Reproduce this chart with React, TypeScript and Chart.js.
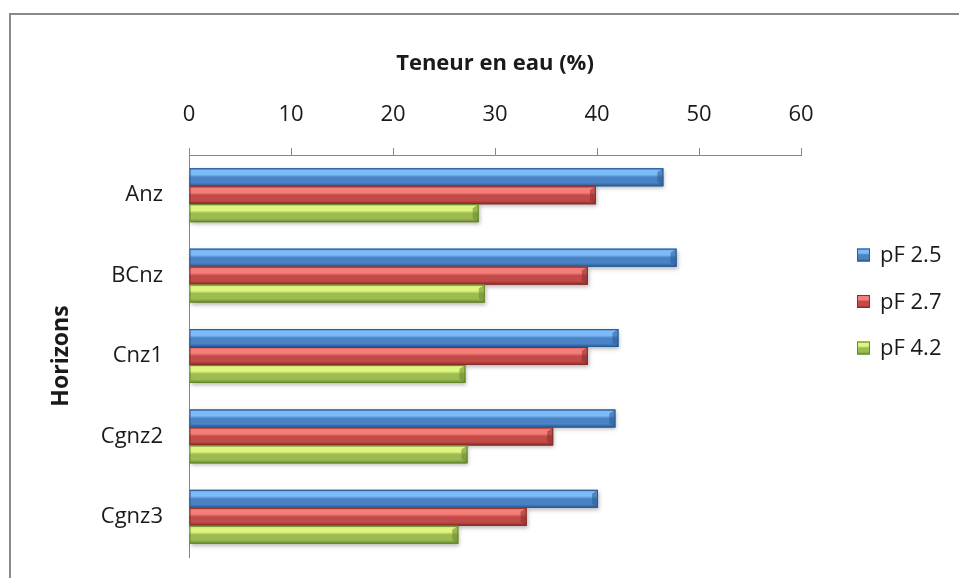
import React, { useEffect, useRef } from 'react';
import { Chart, registerables } from 'chart.js';

Chart.register(...registerables);

const categories = ['Anz', 'BCnz', 'Cnz1', 'Cgnz2', 'Cgnz3'];
const seriesNames = ['pF 2.5', 'pF 2.7', 'pF 4.2'];
const pF25 = [46.5, 47.8, 42.1, 41.8, 40.1];
const pF27 = [39.9, 39.1, 39.1, 35.7, 33.1];
const pF42 = [28.4, 29.0, 27.1, 27.3, 26.4];
const xTicks = [0, 10, 20, 30, 40, 50, 60];
const xTitle = 'Teneur en eau (%)';
const yTitle = 'Horizons';

const FONT = "'Open Sans', 'DejaVu Sans', sans-serif";
const TEXT = '#1a1a1a';
const AXIS = '#868686';

// [edge, highlight, mid, dark]
const shades = [
  ['#4e88cf', '#7dbaf8', '#4a82c6', '#2b5b93'],
  ['#c65350', '#f57e7b', '#c24a47', '#8a2d2b'],
  ['#a6c75a', '#def57f', '#9cbc50', '#67872f'],
];

function makeGrad(ctx: CanvasRenderingContext2D, top: number, bottom: number, s: string[]) {
  const g = ctx.createLinearGradient(0, top, 0, bottom);
  g.addColorStop(0, s[0]);
  g.addColorStop(0.12, s[1]);
  g.addColorStop(0.35, s[1]);
  g.addColorStop(0.5, s[2]);
  g.addColorStop(0.8, s[2]);
  g.addColorStop(1, s[3]);
  return g;
}

const framePlugin = {
  id: 'frame',
  beforeDraw(chart: any) {
    const { ctx, width, height } = chart;
    ctx.save();
    ctx.fillStyle = '#ffffff';
    ctx.fillRect(0, 0, width, height);
    ctx.fillStyle = '#8a8a8a';
    ctx.fillRect(9, 13, width - 9, 2);
    ctx.fillRect(9, 13, 2, height - 13);
    ctx.restore();
  },
};

const bevelPlugin = {
  id: 'bevel',
  afterDatasetsDraw(chart: any) {
    const { ctx } = chart;
    ctx.save();
    chart.data.datasets.forEach((_ds: any, di: number) => {
      const meta = chart.getDatasetMeta(di);
      const s = shades[di];
      meta.data.forEach((el: any) => {
        const { x, y, base, height } = el.getProps(['x', 'y', 'base', 'height'], true);
        const top = y - height / 2;
        const bottom = y + height / 2;
        const left = Math.min(x, base);
        const w = Math.abs(x - base);
        ctx.save();
        ctx.shadowColor = 'rgba(0,0,0,0.28)';
        ctx.shadowBlur = 4;
        ctx.shadowOffsetX = 1;
        ctx.shadowOffsetY = 2;
        ctx.fillStyle = makeGrad(ctx, top, bottom, s);
        ctx.fillRect(left, top, w, height);
        ctx.restore();
        // right-end bevel
        ctx.fillStyle = s[3];
        ctx.globalAlpha = 0.55;
        ctx.beginPath();
        ctx.moveTo(left + w, top);
        ctx.lineTo(left + w, bottom);
        ctx.lineTo(left + w - 6, bottom - 4);
        ctx.lineTo(left + w - 6, top + 4);
        ctx.closePath();
        ctx.fill();
        ctx.globalAlpha = 1;
        ctx.strokeStyle = s[3];
        ctx.lineWidth = 1;
        ctx.strokeRect(left + 0.5, top + 0.5, w - 1, height - 1);
      });
    });
    ctx.restore();
  },
};

const legendPlugin = {
  id: 'sideLegend',
  afterDraw(chart: any) {
    const { ctx } = chart;
    ctx.save();
    ctx.font = `22px ${FONT}`;
    ctx.textBaseline = 'middle';
    ctx.textAlign = 'left';
    chart.data.datasets.forEach((ds: any, i: number) => {
      const cy = 255 + i * 46.5;
      const bx = 857;
      const size = 13;
      ctx.fillStyle = makeGrad(ctx, cy - size / 2, cy + size / 2, shades[i]);
      ctx.fillRect(bx, cy - size / 2, size, size);
      ctx.strokeStyle = shades[i][3];
      ctx.lineWidth = 1;
      ctx.strokeRect(bx + 0.5, cy - size / 2 + 0.5, size - 1, size - 1);
      ctx.fillStyle = TEXT;
      ctx.fillText(ds.label, 880, cy + 1);
    });
    ctx.restore();
  },
};

export default function App() {
  const ref = useRef<HTMLCanvasElement | null>(null);

  useEffect(() => {
    if (!ref.current) return;
    const chart = new Chart(ref.current, {
      type: 'bar',
      data: {
        labels: categories,
        datasets: [
          { label: seriesNames[0], data: pF25, backgroundColor: shades[0][2] },
          { label: seriesNames[1], data: pF27, backgroundColor: shades[1][2] },
          { label: seriesNames[2], data: pF42, backgroundColor: shades[2][2] },
        ],
      },
      options: {
        indexAxis: 'y',
        responsive: false,
        animation: false,
        devicePixelRatio: 1,
        layout: { padding: { left: 0, top: 0, right: 158, bottom: 21 } },
        datasets: {
          bar: { categoryPercentage: 0.67, barPercentage: 1.0, borderWidth: 0 },
        },
        plugins: {
          legend: { display: false },
          tooltip: { enabled: false },
        },
        scales: {
          x: {
            position: 'top',
            min: 0,
            max: 60,
            afterBuildTicks: (s: any) => {
              s.ticks = xTicks.map((v) => ({ value: v }));
            },
            afterFit: (s: any) => {
              s.height = 155;
            },
            grid: {
              display: true,
              drawOnChartArea: false,
              drawTicks: true,
              tickLength: 7,
              color: AXIS,
              lineWidth: 1,
            },
            border: { display: true, color: AXIS, width: 1 },
            ticks: {
              padding: 20,
              color: TEXT,
              font: { family: FONT, size: 22 },
              maxRotation: 0,
            },
            title: {
              display: true,
              text: xTitle,
              color: TEXT,
              font: { family: FONT, size: 22, weight: 'bold' },
              padding: { top: 51, bottom: 0 },
            },
          },
          y: {
            position: 'left',
            afterFit: (s: any) => {
              s.width = 189;
              s.paddingTop = 0;
              s.paddingBottom = 0;
            },
            grid: { display: false, drawTicks: false },
            border: { display: true, color: AXIS, width: 1 },
            ticks: {
              padding: 26,
              color: TEXT,
              font: { family: FONT, size: 22 },
            },
            title: {
              display: true,
              text: yTitle,
              color: TEXT,
              font: { family: FONT, size: 23, weight: 'bold' },
              padding: { top: 48, bottom: 0 },
            },
          },
        },
      },
      plugins: [framePlugin, bevelPlugin, legendPlugin],
    } as any);
    return () => chart.destroy();
  }, []);

  return (
    <div style={{ position: 'absolute', left: 0, top: 0, width: 959, height: 578 }}>
      <canvas ref={ref} width={959} height={578} style={{ display: 'block' }} />
    </div>
  );
}
